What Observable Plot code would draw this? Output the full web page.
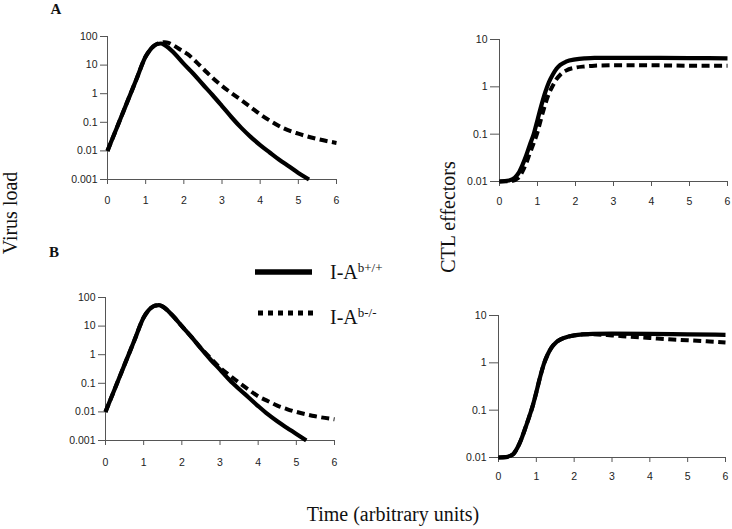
<!DOCTYPE html>
<html>
<head>
<meta charset="utf-8">
<script src="https://cdn.jsdelivr.net/npm/d3@7"></script>
<script src="https://cdn.jsdelivr.net/npm/@observablehq/plot@0.6"></script>
<style>
  html, body { margin: 0; padding: 0; background: #fff; }
  #root { position: relative; width: 732px; height: 529px; background: #fff; overflow: hidden; }
  #root > svg.overlay { position: absolute; left: 0; top: 0; }
  .panel { position: absolute; }
</style>
</head>
<body>
<div id="root"></div>
<script>
// ---------- data ----------
const xTicks = [0, 1, 2, 3, 4, 5, 6];
const virusTicks = [0.001, 0.01, 0.1, 1, 10, 100];
const ctlTicks = [0.01, 0.1, 1, 10];
const seriesNames = ["I-A b+/+", "I-A b-/-"];

// Panel A – virus load
const tVirusA_wt = [0,0.25,0.5,0.75,1.0,1.1,1.2,1.3,1.4,1.5,1.75,2.0,2.25,2.5,2.75,3.0,3.25,3.5,3.75,4.0,4.25,4.5,4.75,5.0,5.28];
const virusA_wt  = [0.01,0.067,0.45,3.0,20,32,45,55,57,50,26,11,5,2.1,0.9,0.37,0.15,0.065,0.031,0.016,0.0088,0.0049,0.0029,0.0017,0.001];
const tVirusA_ko = [0,0.25,0.5,0.75,1.0,1.1,1.2,1.3,1.4,1.5,1.6,1.7,1.9,2.1,2.35,2.6,2.9,3.2,3.5,3.75,4.0,4.3,4.6,5.0,5.5,6.0];
const virusA_ko  = [0.01,0.067,0.45,3.0,20,32,45,55,61,63,60,52,35,24,12,5.6,2.4,1.17,0.6,0.34,0.19,0.105,0.063,0.04,0.026,0.019];

// Panel A – CTL effectors
const tCtlA_wt = [0,0.25,0.4,0.5,0.6,0.7,0.8,0.9,1.0,1.1,1.2,1.3,1.4,1.5,1.6,1.75,2.0,2.25,2.5,3,4,5,6];
const ctlA_wt  = [0.01,0.0105,0.012,0.015,0.022,0.035,0.06,0.1,0.2,0.4,0.75,1.25,1.8,2.4,2.9,3.4,3.8,4.0,4.1,4.1,4.1,4.05,4.0];
const tCtlA_ko = [0,0.3,0.5,0.6,0.7,0.8,0.9,1.0,1.1,1.2,1.3,1.4,1.5,1.6,1.75,2.0,2.25,2.5,3,4,5,6];
const ctlA_ko  = [0.01,0.0102,0.012,0.016,0.024,0.04,0.065,0.11,0.22,0.42,0.72,1.05,1.45,1.8,2.2,2.55,2.7,2.8,2.85,2.85,2.8,2.8];

// Panel B – virus load
const tVirusB_wt = [0,0.25,0.5,0.75,1.0,1.1,1.2,1.3,1.4,1.5,1.75,2.0,2.25,2.5,2.75,3.0,3.25,3.5,3.75,4.0,4.25,4.5,4.75,5.0,5.26];
const virusB_wt  = [0.01,0.067,0.45,3.0,20,32,44,52,54,48,24,10,4.2,1.66,0.68,0.3,0.13,0.063,0.032,0.016,0.0083,0.0047,0.0028,0.0017,0.001];
const tVirusB_ko = [0,0.25,0.5,0.75,1.0,1.1,1.2,1.3,1.4,1.5,1.75,2.0,2.25,2.5,2.75,3.0,3.25,3.5,3.75,4.0,4.25,4.5,4.75,5.0,5.5,6.0];
const virusB_ko  = [0.01,0.067,0.45,3.0,20,32,44,52,54,48,24,10,4.2,1.7,0.76,0.35,0.19,0.105,0.06,0.035,0.024,0.0166,0.0126,0.01,0.007,0.0055];

// Panel B – CTL effectors
const tCtlB_wt = [0,0.2,0.3,0.4,0.5,0.6,0.7,0.8,0.9,1.0,1.1,1.2,1.3,1.4,1.5,1.6,1.75,2.0,2.25,2.5,3,4,5,6];
const ctlB_wt  = [0.01,0.0102,0.0108,0.012,0.016,0.024,0.04,0.068,0.12,0.24,0.5,0.95,1.5,2.1,2.6,3.0,3.4,3.8,4.0,4.1,4.15,4.1,4.0,3.9];
const tCtlB_ko = [0,0.2,0.3,0.4,0.5,0.6,0.7,0.8,0.9,1.0,1.1,1.2,1.3,1.4,1.5,1.6,1.75,2.0,2.25,2.5,3,3.5,4,4.5,5,5.5,6];
const ctlB_ko  = [0.01,0.0102,0.0108,0.012,0.016,0.024,0.04,0.068,0.12,0.24,0.5,0.95,1.5,2.1,2.6,3.0,3.4,3.8,4.0,4.0,3.8,3.55,3.35,3.15,3.0,2.85,2.7];

// ---------- helpers ----------
const toRows = (ts, vs) => ts.map((t, i) => ({t, v: vs[i]}));
const root = document.getElementById("root");
const AXIS = "#555";

function panel({left, top, w, h, wt, ko, ticks, tickSizeY, padY, padX, mr}) {
  const ML = 60, MT = 8, MB = 32, MR = mr;
  const chart = Plot.plot({
    width: ML + w + MR,
    height: MT + h + MB,
    marginLeft: ML, marginTop: MT, marginRight: MR, marginBottom: MB,
    style: {fontFamily: "'Liberation Sans', Arial, sans-serif", fontSize: "10.5px", color: "#222", background: "transparent", overflow: "visible"},
    x: {domain: [0, 6]},
    y: {type: "log", domain: [ticks[0], ticks[ticks.length - 1]]},
    marks: [
      Plot.ruleX([0], {stroke: AXIS, strokeWidth: 1}),
      Plot.ruleY([ticks[0]], {stroke: AXIS, strokeWidth: 1}),
      Plot.axisX({ticks: xTicks, tickSize: 5, tickPadding: padX, stroke: AXIS, tickFormat: d => String(d), label: null}),
      Plot.axisY({ticks: ticks, tickSize: tickSizeY, tickPadding: padY, stroke: AXIS, tickFormat: d => String(d), label: null}),
      Plot.line(wt, {x: "t", y: "v", stroke: "#000", strokeWidth: 4.2, curve: "monotone-x", strokeLinecap: "butt"}),
      Plot.line(ko, {x: "t", y: "v", stroke: "#000", strokeWidth: 4, curve: "monotone-x", strokeDasharray: "8,4.5", strokeLinecap: "butt"})
    ]
  });
  chart.classList.add("panel");
  chart.style.left = (left - ML) + "px";
  chart.style.top = (top - MT) + "px";
  root.appendChild(chart);
}

// ---------- overlay texts + legend ----------
const NS = "http://www.w3.org/2000/svg";
const ov = document.createElementNS(NS, "svg");
ov.setAttribute("class", "overlay");
ov.setAttribute("width", 732); ov.setAttribute("height", 529);
ov.innerHTML = `
  <g font-family="'Liberation Serif', 'Times New Roman', serif" fill="#111">
    <text x="56" y="13.5" font-size="15" font-weight="bold" text-anchor="middle">A</text>
    <text x="54" y="257" font-size="15" font-weight="bold" text-anchor="middle">B</text>
    <text transform="translate(17,213) rotate(-90)" font-size="20" text-anchor="middle">Virus load</text>
    <text transform="translate(455,217) rotate(-90)" font-size="20" text-anchor="middle">CTL effectors</text>
    <text x="393" y="521" font-size="20" text-anchor="middle">Time (arbitrary units)</text>
    <line x1="255" x2="312" y1="272" y2="272" stroke="#000" stroke-width="5.5"/>
    <line x1="258" x2="315" y1="313" y2="313" stroke="#000" stroke-width="5" stroke-dasharray="5,5"/>
    <text x="330" y="279" font-size="20">I-A<tspan dy="-7" font-size="13">b+/+</tspan></text>
    <text x="330" y="324" font-size="20">I-A<tspan dy="-7" font-size="13">b-/-</tspan></text>
  </g>`;
root.appendChild(ov);

panel({left: 107, top: 36, w: 229, h: 143, wt: toRows(tVirusA_wt, virusA_wt), ko: toRows(tVirusA_ko, virusA_ko), ticks: virusTicks, tickSizeY: 7, padY: 3, padX: 12, mr: 10});
panel({left: 499, top: 39, w: 228, h: 142, wt: toRows(tCtlA_wt, ctlA_wt), ko: toRows(tCtlA_ko, ctlA_ko), ticks: ctlTicks, tickSizeY: 9, padY: 3, padX: 11, mr: 5});
panel({left: 105, top: 297, w: 229, h: 143, wt: toRows(tVirusB_wt, virusB_wt), ko: toRows(tVirusB_ko, virusB_ko), ticks: virusTicks, tickSizeY: 7, padY: 3, padX: 13, mr: 10});
panel({left: 498, top: 315, w: 227, h: 142, wt: toRows(tCtlB_wt, ctlB_wt), ko: toRows(tCtlB_ko, ctlB_ko), ticks: ctlTicks, tickSizeY: 9, padY: 3, padX: 10, mr: 7});
</script>
</body>
</html>
